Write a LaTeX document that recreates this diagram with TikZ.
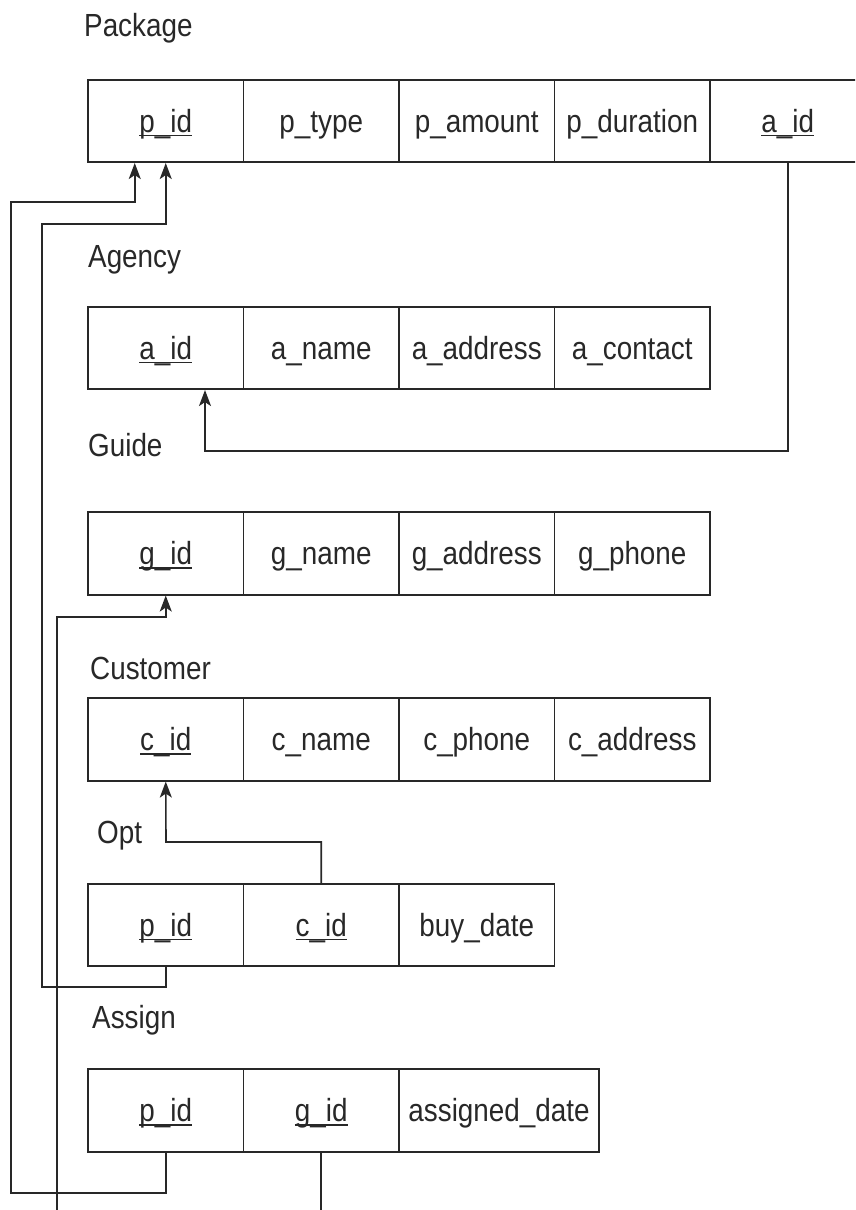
\documentclass[tikz,border=0pt]{standalone}
\usepackage{fontspec}
\setmainfont{Liberation Sans}[FakeStretch=0.87]
\usetikzlibrary{arrows.meta,calc}
\definecolor{lc}{RGB}{40,40,40}
\newcommand{\ukey}[1]{\setbox0\hbox{#1}\rlap{\raisebox{-4pt}{\rule{\wd0}{1.4pt}}}\box0}
\begin{document}
\begin{tikzpicture}[x=1pt,y=-1pt,
  cell/.style={draw=lc, line width=1.6pt, minimum width=155.5pt, minimum height=82.5pt,
    inner sep=0pt, text height=24pt, text depth=2pt, text=lc,
    font=\fontsize{32}{36}\selectfont},
  lbl/.style={anchor=base west, inner sep=0pt, text=lc, font=\fontsize{32}{36}\selectfont},
  fk/.style={draw=lc, line width=1.6pt, -{Stealth[length=16pt,width=12pt,inset=4pt]}},
  wire/.style={draw=lc, line width=1.6pt}]
\useasboundingbox (0,0) rectangle (855,1210);
\fill[white] (0,0) rectangle (855,1210);
\clip (0,0) rectangle (855,1210);

% Package
\node[lbl] (lpk) at (84,36) {Package};
\node[cell] (pk-pid) at (165.75,121) {\ukey{p\_id}};
\node[cell] (pk-type) at (321.25,121) {p\_type};
\node[cell] (pk-amt) at (476.75,121) {p\_amount};
\node[cell] (pk-dur) at (632.25,121) {p\_duration};
\node[cell] (pk-aid) at (787.75,121) {\ukey{a\_id}};

% Agency
\node[lbl] (lag) at (88,267) {Agency};
\node[cell] (ag-aid) at (165.75,348) {\ukey{a\_id}};
\node[cell] (ag-name) at (321.25,348) {a\_name};
\node[cell] (ag-addr) at (476.75,348) {a\_address};
\node[cell] (ag-con) at (632.25,348) {a\_contact};

% Guide
\node[lbl] (lgd) at (88,456) {Guide};
\node[cell] (gd-gid) at (165.75,553.5) {\ukey{g\_id}};
\node[cell] (gd-name) at (321.25,553.5) {g\_name};
\node[cell] (gd-addr) at (476.75,553.5) {g\_address};
\node[cell] (gd-ph) at (632.25,553.5) {g\_phone};

% Customer
\node[lbl] (lcu) at (90,679) {Customer};
\node[cell] (cu-cid) at (165.75,739.5) {\ukey{c\_id}};
\node[cell] (cu-name) at (321.25,739.5) {c\_name};
\node[cell] (cu-ph) at (476.75,739.5) {c\_phone};
\node[cell] (cu-addr) at (632.25,739.5) {c\_address};

% Opt
\node[lbl] (lop) at (97,843) {Opt};
\node[cell] (op-pid) at (165.75,925) {\ukey{p\_id}};
\node[cell] (op-cid) at (321.25,925) {\ukey{c\_id}};
\node[cell] (op-date) at (476.75,925) {buy\_date};

% Assign
\node[lbl] (las) at (92,1028) {Assign};
\node[cell] (as-pid) at (165.75,1110.5) {\ukey{p\_id}};
\node[cell] (as-gid) at (321.25,1110.5) {\ukey{g\_id}};
\node[cell, minimum width=200pt] (as-date) at (499,1110.5) {assigned\_date};

% connectors
\coordinate (w1) at (11,1193);
\coordinate (w2) at (11,202);
\draw[fk] (as-pid.south) |- (w1) -- (w2) -| ([xshift=-31pt]pk-pid.south);

\coordinate (v1) at (42,987);
\coordinate (v2) at (42,224);
\draw[fk] (op-pid.south) |- (v1) -- (v2) -| (pk-pid.south);

\coordinate (u1) at (57,1240);
\coordinate (u2) at (57,617);
\draw[fk] (as-gid.south) |- (u1) -- (u2) -| (gd-gid.south);

\coordinate (t1) at (166,842);
\draw[fk] (op-cid.north) |- (t1) -- (cu-cid.south);

\coordinate (s1) at (205,451);
\draw[fk] (pk-aid.south) |- (s1) -- ([xshift=39.25pt]ag-aid.south);
\end{tikzpicture}
\end{document}
